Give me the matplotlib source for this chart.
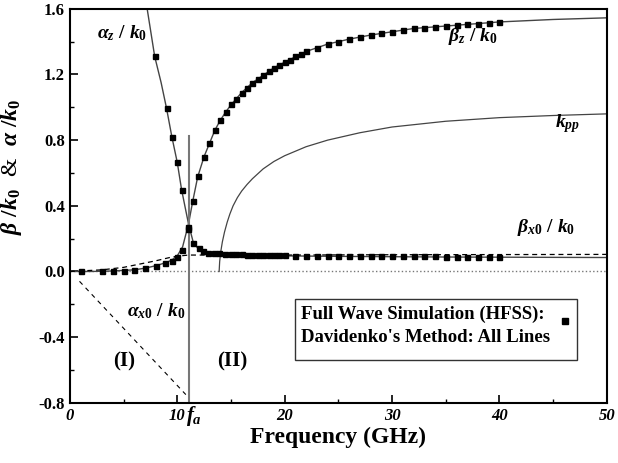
import numpy as np
import matplotlib.pyplot as plt
from matplotlib.patches import Rectangle
from matplotlib.ticker import MultipleLocator

plt.rcParams['font.family'] = ['Liberation Serif', 'DejaVu Serif']
plt.rcParams['mathtext.fontset'] = 'custom'
plt.rcParams['mathtext.rm'] = 'Liberation Serif:bold'
plt.rcParams['mathtext.it'] = 'Liberation Serif:italic:bold'
plt.rcParams['mathtext.bf'] = 'Liberation Serif:bold'

fa = 11.05

# Davidenko's method (lines)
az_f = [7.2, 7.9, 8.5, 9.0, 9.5, 10.0, 10.4, 10.8, 11.05, 11.5, 12.0, 12.5, 13.0,
        14.0, 15.0, 17.0, 20.0, 25.0, 30.0, 35.0, 40.0, 45.0, 50.0]
az_v = [1.6, 1.31, 1.15, 0.995, 0.82, 0.665, 0.5, 0.37, 0.29, 0.175, 0.135, 0.12, 0.113,
        0.106, 0.102, 0.098, 0.095, 0.092, 0.09, 0.088, 0.087, 0.086, 0.085]

bz_f = [0.0, 2.0, 4.0, 6.0, 7.0, 8.0, 9.0, 9.5, 10.0, 10.5, 11.05, 11.45, 11.9, 12.5,
        13.0, 13.5, 14.0, 14.5, 15.0, 16.0, 17.0, 18.0, 19.0, 20.0, 22.0, 24.0, 26.0,
        28.0, 30.0, 32.0, 34.0, 36.0, 38.0, 40.0, 45.0, 50.0]
bz_v = [0.0, 0.0, 0.003, 0.01, 0.02, 0.035, 0.055, 0.07, 0.095, 0.15, 0.29, 0.43, 0.575, 0.70,
        0.78, 0.86, 0.92, 0.97, 1.015, 1.09, 1.15, 1.195, 1.24, 1.275, 1.34, 1.385, 1.415,
        1.44, 1.46, 1.48, 1.49, 1.50, 1.51, 1.52, 1.535, 1.545]

kpp_f = [13.9, 13.95, 14.05, 14.2, 14.4, 14.65, 14.9, 15.2, 15.6, 16.0, 16.5, 17.0, 18.0,
         19.0, 20.0, 22.0, 24.0, 27.0, 30.0, 35.0, 40.0, 45.0, 50.0]
kpp_v = [0.0, 0.06, 0.12, 0.18, 0.24, 0.3, 0.35, 0.40, 0.45, 0.49, 0.53, 0.565, 0.625,
         0.67, 0.705, 0.76, 0.80, 0.845, 0.88, 0.915, 0.937, 0.95, 0.96]

bx0_f = [0.0, 3.0, 5.0, 6.5, 8.0, 9.3, 10.0, fa, 15.0, 20.0, 30.0, 40.0, 50.0]
bx0_v = [0.0, 0.01, 0.025, 0.045, 0.065, 0.085, 0.093, 0.1, 0.1, 0.1, 0.102, 0.103, 0.104]

ax0_f = [0.9, 10.8]
ax0_v = [-0.06, -0.75]

# HFSS (markers)
hb_f = [1.0, 3.0, 4.0, 5.0, 6.0, 7.0, 8.0, 8.9, 9.5, 10.0, 10.4, 11.0, 11.45, 11.9,
        12.5, 13.0, 13.5, 14.0, 14.5, 15.0, 15.5, 16.0, 16.5, 17.0, 17.5, 18.0, 18.5,
        19.0, 19.5, 20.0, 20.5, 21.0, 21.5, 22.0, 23.0, 24.0, 25.0, 26.0, 27.0, 28.0,
        29.0, 30.0, 31.0, 32.0, 33.0, 34.0, 35.0, 36.0, 37.0, 38.0, 39.0, 40.0]
hb_v = [0.0, 0.0, 0.0, 0.0, 0.012, 0.02, 0.035, 0.05, 0.065, 0.09, 0.13, 0.27, 0.43, 0.58,
        0.70, 0.78, 0.86, 0.92, 0.97, 1.02, 1.05, 1.09, 1.12, 1.15, 1.17, 1.195, 1.22,
        1.24, 1.26, 1.275, 1.29, 1.31, 1.325, 1.34, 1.36, 1.385, 1.40, 1.415, 1.43, 1.44,
        1.45, 1.46, 1.47, 1.48, 1.485, 1.49, 1.495, 1.50, 1.505, 1.51, 1.515, 1.52]

ha_f = [7.9, 9.0, 9.5, 10.0, 10.4, 11.0, 11.45, 12.0, 12.4, 12.9, 13.4, 13.9, 14.4,
        15.0, 15.5, 16.0, 16.5, 17.0, 17.5, 18.0, 18.5, 19.0, 19.5, 20.0, 21.0, 22.0,
        23.0, 24.0, 25.0, 26.0, 27.0, 28.0, 29.0, 30.0, 31.0, 32.0, 33.0, 34.0, 35.0,
        36.0, 37.0, 38.0, 39.0, 40.0]
ha_v = [1.31, 0.995, 0.82, 0.665, 0.495, 0.26, 0.175, 0.14, 0.125, 0.115, 0.112, 0.11,
        0.108, 0.106, 0.105, 0.104, 0.103, 0.102, 0.101, 0.1, 0.1, 0.099, 0.099, 0.098,
        0.097, 0.097, 0.096, 0.096, 0.095, 0.095, 0.094, 0.094, 0.093, 0.093, 0.093,
        0.092, 0.092, 0.092, 0.091, 0.091, 0.091, 0.09, 0.09, 0.09]

fig = plt.figure(figsize=(6.18, 4.63), dpi=100)
ax = fig.add_axes([0.113, 0.13, 0.869, 0.851])

lc = '#444444'
ax.plot([0, 50], [0, 0], ':', color='#777777', lw=1.0)
ax.plot(az_f, az_v, '-', color=lc, lw=1.0)
ax.plot(bz_f, bz_v, '-', color=lc, lw=1.0)
ax.plot(kpp_f, kpp_v, '-', color=lc, lw=0.9)
ax.plot(bx0_f, bx0_v, '--', color='black', lw=0.9, dashes=(4, 3))
ax.plot(ax0_f, ax0_v, '--', color='black', lw=0.8, dashes=(4, 4))
ax.plot([fa, fa], [-0.8, 0.825], '-', color='#777777', lw=1.5)
ax.plot(hb_f, hb_v, 's', color='black', ms=3.6, ls='none')
ax.plot(ha_f, ha_v, 's', color='black', ms=3.6, ls='none')

ax.set_xlim(0, 50)
ax.set_ylim(-0.8, 1.6)
ax.xaxis.set_major_locator(MultipleLocator(10))
ax.xaxis.set_minor_locator(MultipleLocator(5))
ax.yaxis.set_major_locator(MultipleLocator(0.4))
ax.yaxis.set_minor_locator(MultipleLocator(0.2))
ax.set_yticklabels(['%.1f' % v for v in ax.get_yticks()])
ax.tick_params(which='both', direction='in', top=False, right=False)
ax.tick_params(which='major', length=6, width=1.2)
ax.tick_params(which='minor', length=3, width=1.0)
for lab in ax.get_xticklabels():
    lab.set_fontweight('bold')
    lab.set_fontstyle('italic')
    lab.set_fontsize(12)
for lab in ax.get_yticklabels():
    lab.set_fontweight('bold')
    lab.set_fontsize(12)
for s in ax.spines.values():
    s.set_linewidth(1.5)

ax.set_xlabel('Frequency (GHz)', fontsize=17, fontweight='bold', labelpad=2)
ax.set_ylabel(r'$\beta\ /k_0\ \ $&$\ \ \alpha\ /k_0$', fontsize=17, labelpad=2)
ax.yaxis.set_label_coords(-0.085, 0.6)

ax.text(2.5, 1.45, r'$\alpha_z\ /\ k_0$', fontsize=14, va='center')
ax.text(35.2, 1.43, r'$\beta_z\ /\ k_0$', fontsize=14, va='center')
ax.text(45.2, 0.9, r'$k_{pp}$', fontsize=14, va='center')
ax.text(41.6, 0.27, r'$\beta_{x0}\ /\ k_0$', fontsize=14, va='center')
ax.text(5.3, -0.24, r'$\alpha_{x0}\ /\ k_0$', fontsize=14, va='center')
ax.text(4.0, -0.55, '(I)', fontsize=15, fontweight='bold', va='center')
ax.text(13.7, -0.55, '(II)', fontsize=15, fontweight='bold', va='center')
ax.text(fa - 0.2, -0.81, r'$f_a$', fontsize=15, va='top', clip_on=False)

ax.add_patch(Rectangle((21.0, -0.54), 26.2, 0.37, fill=False, lw=1.0, color='#333333'))
ax.text(21.5, -0.262, 'Full Wave Simulation (HFSS):', fontsize=13.5, fontweight='bold', va='center')
ax.text(21.5, -0.4, "Davidenko's Method: All Lines", fontsize=13.5, fontweight='bold', va='center')
ax.plot([46.1], [-0.3], 's', color='black', ms=4)

fig.savefig('out.png', dpi=100)
